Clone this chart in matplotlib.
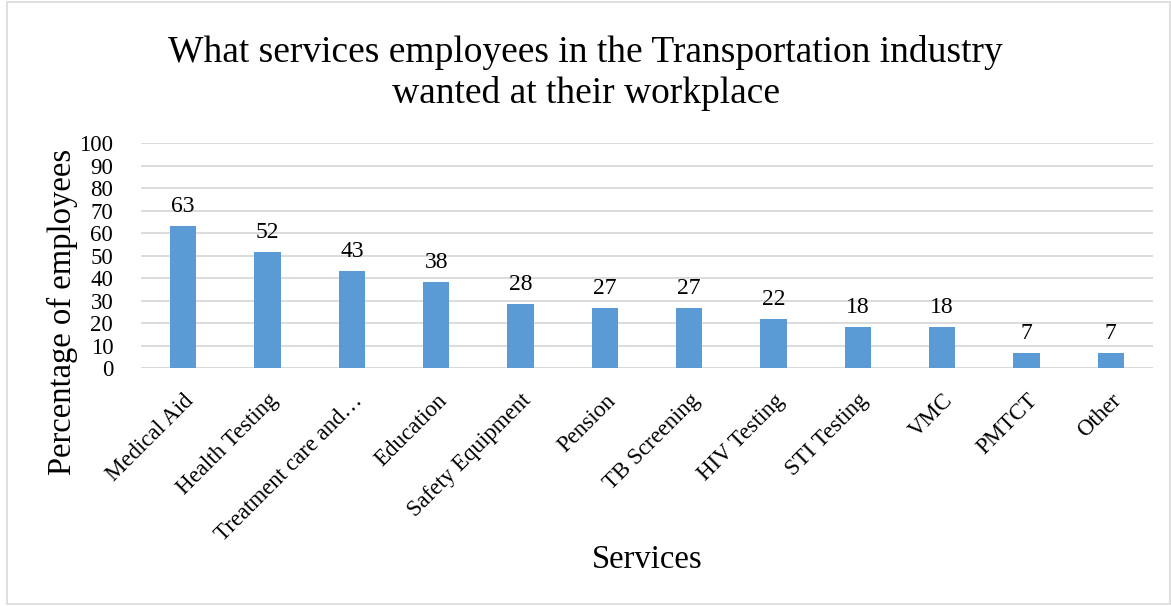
import matplotlib
matplotlib.use("Agg")
import matplotlib.pyplot as plt
from matplotlib.patches import Rectangle

plt.rcParams['font.family'] = ['Liberation Serif', 'DejaVu Serif']

services = ["Medical Aid", "Health Testing", "Treatment care and…", "Education",
            "Safety Equipment", "Pension", "TB Screening", "HIV Testing",
            "STI Testing", "VMC", "PMTCT", "Other"]
percent = [63.3, 51.7, 43.3, 38.3, 28.3, 26.7, 26.7, 21.7, 18.3, 18.3, 6.7, 6.7]
y_ticks = list(range(0, 101, 10))

fig = plt.figure(figsize=(11.71, 6.06), dpi=100)
ax = fig.add_axes([0.1204, 0.3927, 0.8642, 0.3713])

x = range(len(services))
bars = ax.bar(x, percent, width=0.31, color="#5B9BD5", zorder=3)
for xi, v in zip(x, percent):
    ax.text(xi, v + 4, f"{v:.0f}", ha="center", va="bottom", fontsize=17)

ax.set_xlim(-0.5, len(services) - 0.5)
ax.set_ylim(0, 100)
ax.set_yticks(y_ticks)
ax.tick_params(axis="y", length=0, labelsize=16.5, pad=20)
ax.tick_params(axis="x", length=0, labelsize=16.5, pad=16)
ax.set_xticks(list(x))
ax.set_xticklabels(services, rotation=45, ha="right", rotation_mode="anchor")
ax.grid(axis="y", color="#D9D9D9", linewidth=1.3, zorder=0)
for s in ax.spines.values():
    s.set_visible(False)
ax.axhline(0, color="#D9D9D9", linewidth=1.3, zorder=1)

ax.set_ylabel("Percentage of employees", fontsize=23.5, va="center")
ax.yaxis.set_label_coords(-0.078, 0.25)
ax.set_xlabel("Services", fontsize=23.5, va="center")
ax.xaxis.set_label_coords(0.5, -0.853)
fig.suptitle("What services employees in the Transportation industry\nwanted at their workplace",
             fontsize=27, y=0.942, linespacing=1.22)

fig.patches.append(Rectangle((0.006, 0.003), 0.993, 0.994, transform=fig.transFigure,
                             fill=False, edgecolor="#D9D9D9", linewidth=1.2))

fig.savefig("out.png", dpi=100)
